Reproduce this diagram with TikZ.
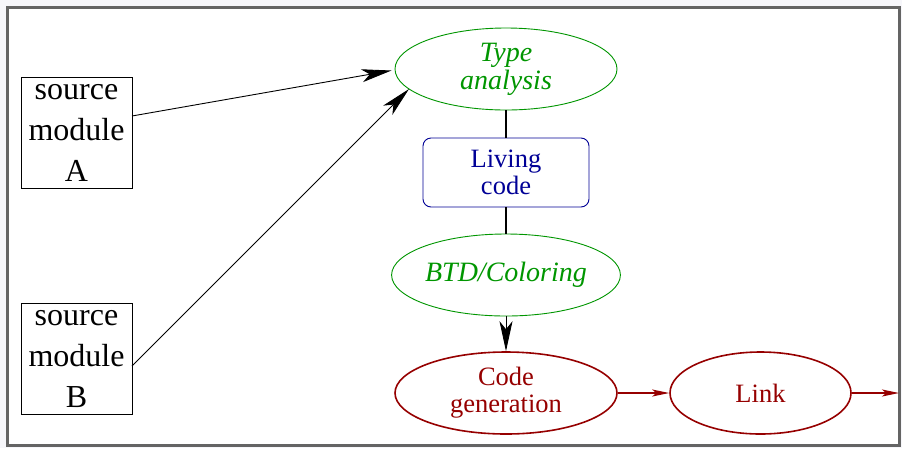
\documentclass[tikz,border=0pt]{standalone}
\usepackage{fontspec}
\setmainfont{Liberation Serif}
\newfontfamily\diagfont{Liberation Serif}
\usetikzlibrary{arrows.meta,shapes.geometric}
\definecolor{phasegreen}{RGB}{0,150,0}
\definecolor{phaseblue}{RGB}{0,0,150}
\definecolor{phasered}{RGB}{150,0,0}
\definecolor{framegray}{RGB}{100,100,100}
\definecolor{pagebg}{RGB}{246,246,250}
\tikzset{
  srcbox/.style={draw=black, line width=0.8pt, minimum width=111pt, minimum height=111pt,
    inner sep=0pt, align=center, font=\diagfont\fontsize{32}{41}\selectfont},
  greenphase/.style={ellipse, draw=phasegreen, line width=0.9pt, text=phasegreen,
    minimum width=222pt, minimum height=82pt, inner sep=0pt, align=center,
    font=\diagfont\fontsize{28}{28}\selectfont\itshape},
  livebox/.style={draw=phaseblue, rounded corners=8pt, line width=0.9pt, text=phaseblue,
    minimum width=166pt, minimum height=69pt, inner sep=0pt, align=center,
    font=\diagfont\fontsize{26.5}{27}\selectfont},
  redphase/.style={ellipse, draw=phasered, line width=1.6pt, text=phasered,
    minimum height=82pt, inner sep=0pt, align=center,
    font=\diagfont\fontsize{26.5}{27}\selectfont},
  bigarrow/.style={draw=black, line width=0.9pt, -{Stealth[length=30pt,width=13pt,inset=8pt]}},
  redarrow/.style={draw=phasered, line width=1.6pt, -{Stealth[length=17pt,width=7pt,inset=4pt]}},
  plainlink/.style={draw=black, line width=1.2pt}
}
\begin{document}
\begin{tikzpicture}[x=1pt,y=-1pt]
  % page and frame
  \fill[pagebg] (0,0) rectangle (902,448);
  \useasboundingbox (0,0) rectangle (902,448);
  \filldraw[fill=white, draw=framegray, line width=3pt] (7,7) rectangle (899.5,445.5);

  % source modules
  \node[srcbox] (srcA) at (76.5,132.5) {source\\module\\A};
  \node[srcbox] (srcB) at (76.5,359) {source\\module\\B};

  % compilation phases
  \node[greenphase] (type) at (506,69) {Type\\analysis};
  \node[livebox] (living) at (506,172.5) {Living\\code};
  \node[greenphase] (btd) at (506,275) {BTD/Coloring};
  \node[redphase, minimum width=222pt] (codegen) at (506,393) {Code\\generation};
  \node[redphase, minimum width=181pt] (link) at (760.5,393) {Link};

  % arrow ends
  \coordinate (typeinA) at (391.5,70.5);
  \coordinate (typeinB) at (409,89);
  \coordinate (srcAout) at (132,116);
  \coordinate (srcBout) at (132,366);
  \coordinate (out) at (899,393);

  % connectors
  \draw[bigarrow] (srcAout) -- (typeinA);
  \draw[bigarrow] (srcBout) -- (typeinB);
  \draw[plainlink] (type) -- (living);
  \draw[plainlink] (living) -- (btd);
  \draw[bigarrow] (btd) -- (codegen);
  \draw[redarrow] (codegen) -- (link);
  \draw[redarrow] (link) -- (out);
\end{tikzpicture}
\end{document}
